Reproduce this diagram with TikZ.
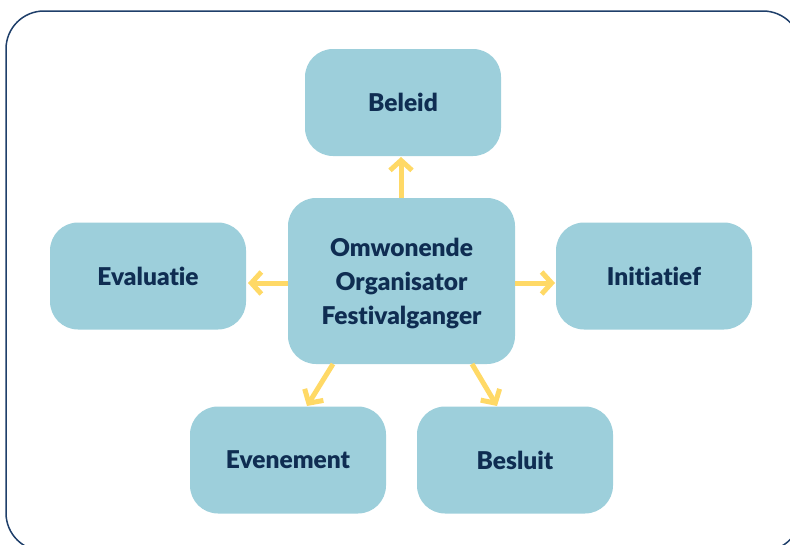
\documentclass[tikz,border=0pt]{standalone}
\usepackage{fontspec}
\setmainfont{Lato}[BoldFont={Lato Black},Ligatures={NoCommon}]
\usetikzlibrary{arrows.meta}
\definecolor{boxblue}{HTML}{9DCFDB}
\definecolor{navy}{HTML}{0F2D52}
\definecolor{framec}{HTML}{1F3F6A}
\definecolor{arrowy}{HTML}{FFD966}
\begin{document}
\begin{tikzpicture}[x=1pt,y=-1pt,
  box/.style={fill=boxblue, rounded corners=28pt, minimum width=196pt, minimum height=107pt,
    font=\fontsize{24.5}{34}\selectfont\bfseries, text=navy, align=center, inner sep=0pt},
  conn/.style={draw=arrowy, line width=5pt, -{Straight Barb[length=10pt,width=22pt,line width=5pt]}}]
\useasboundingbox (0,0) rectangle (790,544);
\draw[framec, line width=1.5pt, rounded corners=38pt] (6,11) rectangle (801,551);
\node[box] (beleid) at (403,102.5) {Beleid};
\node[box, minimum width=227pt, minimum height=166pt] (center) at (401.5,281) {};
\node[box, fill=none, minimum width=0pt, minimum height=0pt] (centertext) at (401.5,284) {Omwonende\\Organisator\\Festivalganger};
\node[box] (eval) at (148,276) {Evaluatie};
\node[box] (init) at (654,276) {Initiatief};
\node[box] (even) at (288,460) {Evenement};
\node[box] (besl) at (515,460) {Besluit};
\coordinate (ct) at (401,198);
\coordinate (cl) at (288,283);
\coordinate (cr) at (515,283);
\coordinate (cbl) at (333,364);
\coordinate (cbr) at (472,364);
\draw[conn] (ct) -- (401,157);
\draw[conn] (cl) -- (248,283);
\draw[conn] (cr) -- (555,283);
\draw[conn] (cbl) -- (307,406);
\draw[conn] (cbr) -- (497,406);
\end{tikzpicture}
\end{document}
